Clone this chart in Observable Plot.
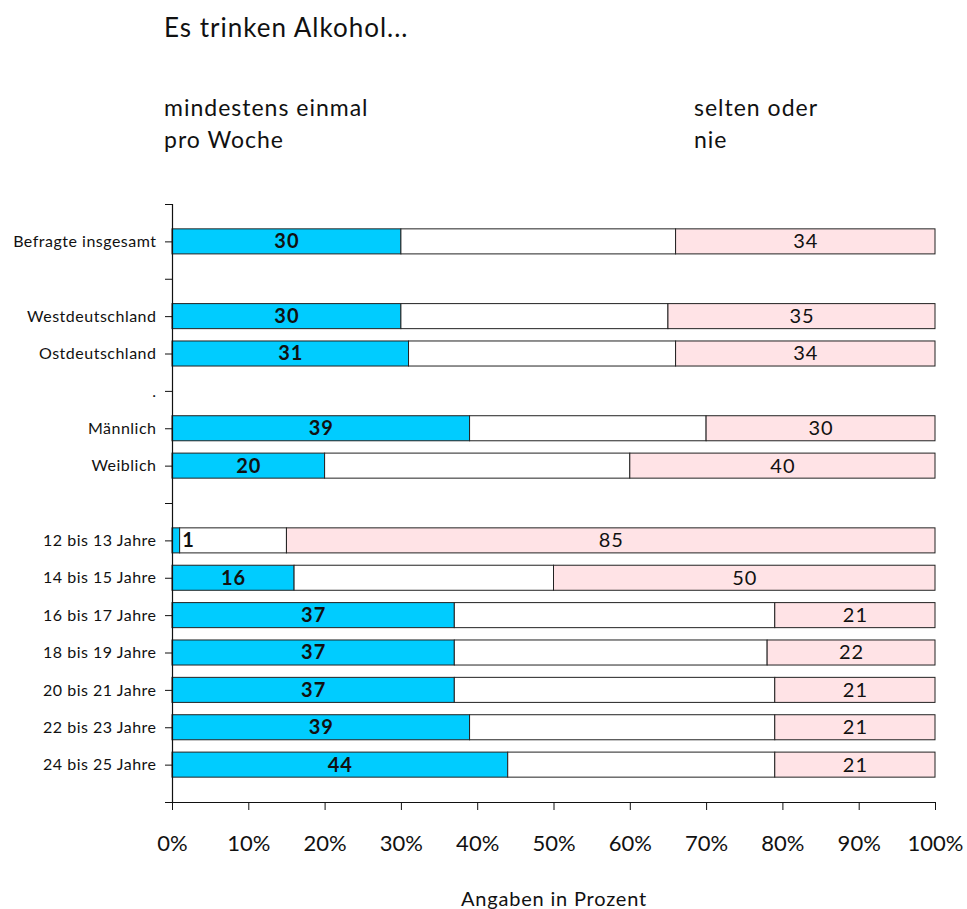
<!DOCTYPE html>
<html><head><meta charset="utf-8">
<script src="https://cdn.jsdelivr.net/npm/d3@7"></script>
<script src="https://cdn.jsdelivr.net/npm/@observablehq/plot@0.6"></script>
<style>
body{margin:0;background:#fff;font-family:Lato,sans-serif;color:#111}
#head{position:relative;width:967px;height:180px}
.t{position:absolute;white-space:nowrap;line-height:32px;letter-spacing:1px}
#chart svg{display:block}
#chart g[aria-label="y-axis tick label"] text{letter-spacing:0.5px}
#chart g[aria-label="x-axis label"] text{letter-spacing:0.8px}
#chart .barlab text{letter-spacing:1px}
</style></head><body>
<div id="head">
 <div class="t" style="left:164px;top:11px;font-size:26px">Es trinken Alkohol...</div>
 <div class="t" style="left:164px;top:91px;font-size:23px">mindestens einmal<br>pro Woche</div>
 <div class="t" style="left:694px;top:91px;font-size:23px">selten oder<br>nie</div>
</div>
<div id="chart"></div>
<script>
const rowLabels = ["", "Befragte insgesamt", "", "Westdeutschland", "Ostdeutschland", ".", "Männlich", "Weiblich", "",
  "12 bis 13 Jahre", "14 bis 15 Jahre", "16 bis 17 Jahre", "18 bis 19 Jahre", "20 bis 21 Jahre", "22 bis 23 Jahre", "24 bis 25 Jahre", ""];
const groups = ["Befragte insgesamt", "Westdeutschland", "Ostdeutschland", "Männlich", "Weiblich",
  "12 bis 13 Jahre", "14 bis 15 Jahre", "16 bis 17 Jahre", "18 bis 19 Jahre", "20 bis 21 Jahre", "22 bis 23 Jahre", "24 bis 25 Jahre"];
const weekly = [30, 30, 31, 39, 20, 1, 16, 37, 37, 37, 39, 44];
const middle = [36, 35, 35, 31, 40, 14, 34, 42, 41, 42, 40, 35];
const rarely = [34, 35, 34, 30, 40, 85, 50, 21, 22, 21, 21, 21];
const xTicks = [0, 10, 20, 30, 40, 50, 60, 70, 80, 90, 100];
const colors = {weekly: "#00ccff", middle: "#ffffff", rarely: "#ffe3e6"};

const rows = groups.map((g, i) => ({
  group: g, row: rowLabels.indexOf(g), weekly: weekly[i], middle: middle[i], rarely: rarely[i]
}));
const half = 0.335;
const segments = rows.flatMap(d => [
  {row: d.row, x1: 0, x2: d.weekly, fill: colors.weekly},
  {row: d.row, x1: d.weekly, x2: d.weekly + d.middle, fill: colors.middle},
  {row: d.row, x1: d.weekly + d.middle, x2: d.weekly + d.middle + d.rarely, fill: colors.rarely}
]);

const chart = Plot.plot({
  width: 967, height: 729,
  marginTop: 24, marginBottom: 107, marginLeft: 172, marginRight: 32,
  style: {fontFamily: "Lato, sans-serif", fontSize: "15px", color: "#111", background: "#fff"},
  x: {domain: [0, 100]},
  y: {domain: [0, rowLabels.length - 1], reverse: true},
  marks: [
    Plot.rectX(segments, {x1: "x1", x2: "x2", y1: d => d.row - half, y2: d => d.row + half,
      fill: "fill", stroke: "#222", strokeWidth: 1}),
    Plot.text(rows.filter(d => d.weekly >= 5), {x: d => d.weekly / 2, y: "row", text: "weekly",
      fontSize: 20, fontWeight: "bold", fill: "#111", className: "barlab"}),
    Plot.text(rows.filter(d => d.weekly < 5), {x: "weekly", y: "row", text: "weekly", textAnchor: "start", dx: 2,
      fontSize: 20, fontWeight: "bold", fill: "#111", className: "barlab"}),
    Plot.text(rows, {x: d => d.weekly + d.middle + d.rarely / 2, y: "row", text: "rarely",
      fontSize: 20, fill: "#111", className: "barlab"}),
    Plot.ruleX([0], {stroke: "#111", strokeWidth: 1.2}),
    Plot.ruleY([rowLabels.length - 1], {stroke: "#111", strokeWidth: 1.2}),
    Plot.axisY({ticks: d3.range(rowLabels.length), tickFormat: i => rowLabels[i], tickSize: 7, tickPadding: 9,
      fontSize: 16, label: null, stroke: "#111"}),
    Plot.axisX({ticks: xTicks, tickFormat: d => d + "%", tickSize: 8, tickPadding: 25, fontSize: 22,
      label: "Angaben in Prozent", labelAnchor: "center", labelArrow: false, labelOffset: 103, stroke: "#111"})
  ]
});
chart.querySelectorAll("g[aria-label='x-axis label']").forEach(e => e.setAttribute("font-size", "20"));
document.getElementById("chart").appendChild(chart);
</script>
</body></html>
